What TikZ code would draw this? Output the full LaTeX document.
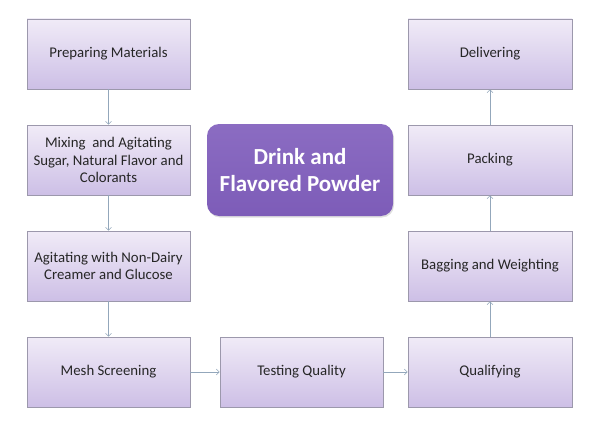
\documentclass[tikz,border=0pt]{standalone}
\usepackage{fontspec}
\setmainfont{Carlito}
\usetikzlibrary{arrows.meta,shadows}
\definecolor{boxtop}{HTML}{F0EBF7}
\definecolor{boxbot}{HTML}{CDBFE6}
\definecolor{boxline}{HTML}{9C98AC}
\definecolor{titlefill}{HTML}{7D5CB8}
\definecolor{titletop}{HTML}{8B6CC2}
\definecolor{flowline}{HTML}{93A7BB}
\begin{document}
\begin{tikzpicture}[x=1pt,y=-1pt,
    stage/.style={draw=boxline,line width=0.6pt,top color=boxtop,bottom color=boxbot,
      minimum width=163pt,minimum height=70pt,align=center,text=black!85,
      font=\fontsize{14.8}{17.3}\selectfont,inner sep=2pt,
      drop shadow={opacity=0.2,shadow xshift=1pt,shadow yshift=-1pt}},
    title/.style={rounded corners=12pt,top color=titletop,bottom color=titlefill,
      minimum width=186pt,minimum height=92pt,align=center,text=white,
      font=\bfseries\fontsize{23}{27}\selectfont,inner sep=2pt,
      drop shadow={opacity=0.25,shadow xshift=1pt,shadow yshift=-1.5pt}},
    flow/.style={draw=flowline,line width=0.6pt,-{Straight Barb[length=3pt,width=6pt]}}]
  \useasboundingbox (0,0) rectangle (600,428);
  % left column
  \node[stage] (prep) at (108.5,54) {Preparing Materials};
  \node[stage] (mix) at (108.5,160) {Mixing\ \ and Agitating\\Sugar, Natural Flavor and\\Colorants};
  \node[stage] (agit) at (108.5,266) {Agitating with Non-Dairy\\Creamer and Glucose};
  \node[stage] (mesh) at (108.5,372) {Mesh Screening};
  % middle
  \node[stage] (test) at (301.5,372) {Testing Quality};
  \node[title] (drink) at (300,170) {Drink and\\Flavored Powder};
  % right column
  \node[stage,minimum width=164pt] (qual) at (490,372) {Qualifying};
  \node[stage,minimum width=164pt] (bag) at (490,266) {Bagging and Weighting};
  \node[stage,minimum width=164pt] (pack) at (490,160) {Packing};
  \node[stage,minimum width=164pt] (deliv) at (490,54) {Delivering};
  % arrows
  \draw[flow] (prep) -- (mix);
  \draw[flow] (mix) -- (agit);
  \draw[flow] (agit) -- (mesh);
  \draw[flow] (mesh) -- (test);
  \draw[flow] (test) -- (qual);
  \draw[flow] (qual) -- (bag);
  \draw[flow] (bag) -- (pack);
  \draw[flow] (pack) -- (deliv);
\end{tikzpicture}
\end{document}
